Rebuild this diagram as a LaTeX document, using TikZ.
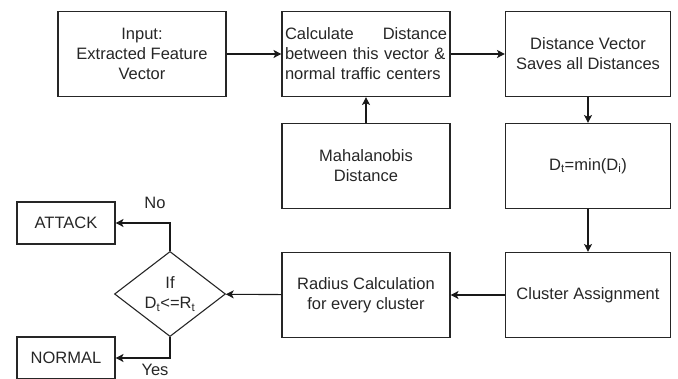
\documentclass[tikz,border=0pt]{standalone}
\usepackage{fontspec}
\setmainfont{Liberation Sans}
\usetikzlibrary{arrows.meta,shapes.geometric}
\begin{document}
\begin{tikzpicture}[x=1pt,y=-1pt,
  txt/.style={text=black!85,font=\fontsize{16.5}{20}\selectfont},
  box/.style={txt,draw=black!85,line width=1.1pt,minimum width=168pt,minimum height=85pt,inner sep=0pt,align=center},
  smallbox/.style={txt,draw=black!85,line width=1.1pt,minimum width=98pt,minimum height=42pt,inner sep=0pt,align=center},
  dec/.style={txt,draw=black!85,line width=1.1pt,diamond,minimum width=111pt,minimum height=84pt,inner sep=0pt,align=center},
  conn/.style={line width=1.1pt,draw=black!90,-{Stealth[length=8pt,width=8pt,inset=2pt]}},
  lbl/.style={txt}]
\useasboundingbox (0,0) rectangle (678,379);
\clip (0,0) rectangle (678,379);
\node[box] (inp) at (142,54) {Input:\\Extracted Feature\\Vector};
\node[box,align=left,text width=162pt] (calc) at (366,54) {Calculate\hfill Distance\\between this vector \&\\normal traffic centers};
\node[box,minimum width=165pt] (dv) at (588,54) {Distance Vector\\Saves all Distances};
\node[box] (mah) at (366,166) {Mahalanobis\\Distance};
\node[box,minimum width=165pt] (dt) at (588,166) {D\textsubscript{t}=min(D\textsubscript{i})};
\node[box,minimum width=165pt] (ca) at (588,295) {Cluster Assignment};
\node[box] (rad) at (366,295) {Radius Calculation\\for every cluster};
\node[dec] (if) at (170,294) {If\\D\textsubscript{t}<=R\textsubscript{t}};
\node[smallbox] (att) at (66,223) {ATTACK};
\node[smallbox] (nor) at (66,358) {NORMAL};
\node[lbl] (no) at (155,203) {No};
\node[lbl] (yes) at (155,370) {Yes};
\draw[conn] (inp) -- (calc);
\draw[conn] (calc) -- (dv);
\draw[conn] (mah) -- (calc);
\draw[conn] (dv) -- (dt);
\draw[conn] (dt) -- (ca);
\draw[conn] (ca) -- (rad);
\draw[conn] (rad) -- (if);
\draw[conn] (if.north) |- (att.east);
\draw[conn] (if.south) |- (nor.east);
\end{tikzpicture}
\end{document}
